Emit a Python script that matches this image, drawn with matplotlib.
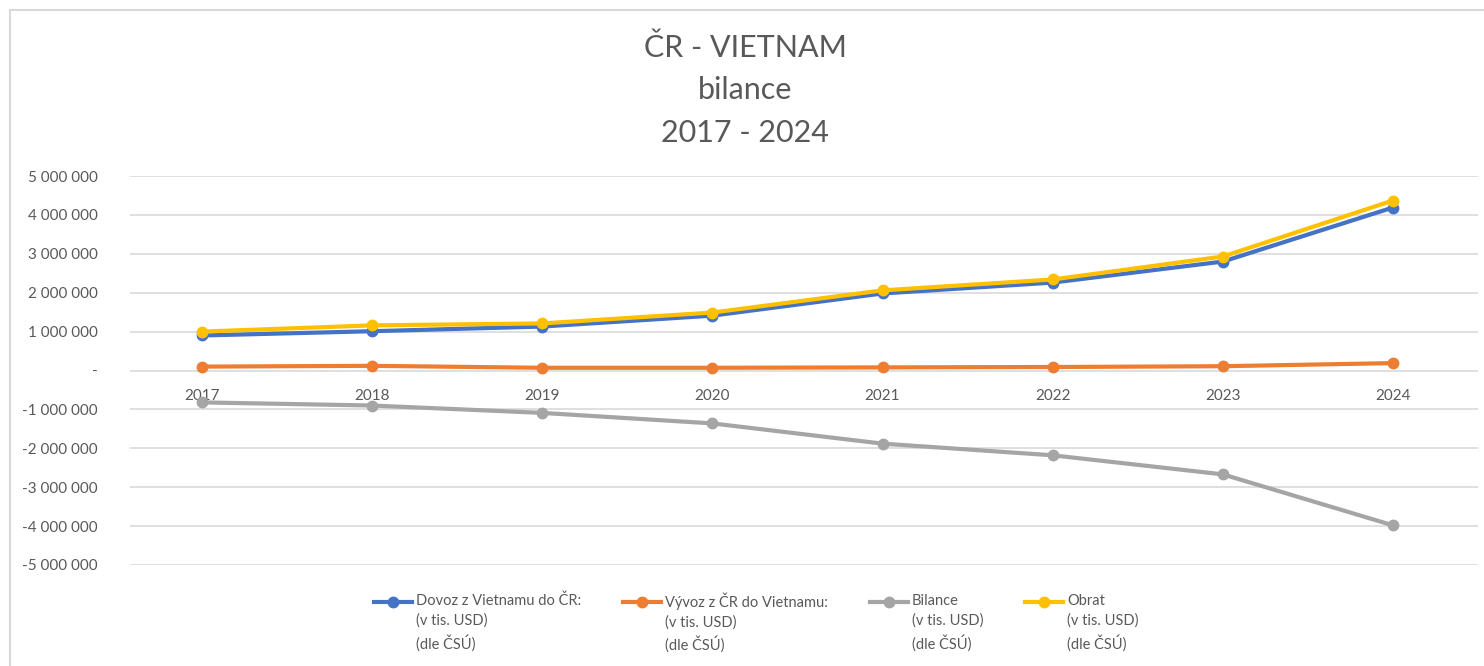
import numpy as np
from matplotlib import pyplot as plt
from matplotlib.lines import Line2D
from matplotlib.legend_handler import HandlerLine2D
from matplotlib.ticker import FuncFormatter

# ČR - Vietnam trade balance (v tis. USD, dle ČSÚ)
years = ["2017", "2018", "2019", "2020", "2021", "2022", "2023", "2024"]
dovoz = [900000, 1010000, 1130000, 1410000, 1980000, 2260000, 2800000, 4190000]
vyvoz = [100000, 120000, 70000, 70000, 80000, 90000, 110000, 190000]
bilance = [-820000, -900000, -1090000, -1360000, -1880000, -2180000, -2670000, -3980000]
obrat = [1000000, 1160000, 1210000, 1490000, 2060000, 2340000, 2930000, 4370000]

labels = ["Dovoz z Vietnamu do ČR:\n(v tis. USD)\n(dle ČSÚ)",
          "Vývoz z ČR do Vietnamu:\n(v tis. USD)\n(dle ČSÚ)",
          "Bilance\n(v tis. USD)\n(dle ČSÚ)",
          "Obrat\n(v tis. USD)\n(dle ČSÚ)"]
colors = ["#4472C4", "#ED7D31", "#A5A5A5", "#FFC000"]

plt.rcParams['font.family'] = ['Lato', 'DejaVu Sans']
txt = "#595959"


class HandlerFirstLine(HandlerLine2D):
    # put the legend line next to the first text line, not the middle one
    shift = 15.1

    def create_artists(self, legend, orig_handle, xdescent, ydescent,
                       width, height, fontsize, trans):
        arts = super().create_artists(legend, orig_handle, xdescent, ydescent,
                                      width, height, fontsize, trans)
        for a in arts:
            a.set_ydata(np.asarray(a.get_ydata()) + self.shift)
        return arts


W, H = 1484, 666
fig = plt.figure(figsize=(W / 100, H / 100), dpi=100)
ax = fig.add_axes([130 / W, 1 - 565 / H, 1348 / W, 389 / H])

x = np.arange(len(years))
lines = []
for ys, c, lab in zip([dovoz, vyvoz, bilance, obrat], colors, labels):
    l, = ax.plot(x, ys, color=c, lw=3, marker="o", ms=7.5, label=lab, clip_on=False)
    lines.append(l)

ax.set_xlim(-0.423, 7.5)
ax.set_ylim(-5000000, 5000000)
ax.set_yticks(np.arange(-5000000, 5000001, 1000000))


def fmt(v, pos):
    if v == 0:
        return "-"
    return "{:,.0f}".format(v).replace(",", " ")


ax.yaxis.set_major_formatter(FuncFormatter(fmt))
ax.set_xticks(x)
ax.set_xticklabels(years)
ax.grid(axis="y", color="#d9d9d9", lw=1.2)
ax.set_axisbelow(True)
for s in ["top", "right", "left"]:
    ax.spines[s].set_visible(False)
ax.spines["bottom"].set_position(("data", 0))
ax.spines["bottom"].set_visible(False)
ax.tick_params(axis="both", length=0, labelsize=11, labelcolor=txt)
ax.tick_params(axis="y", pad=23)
ax.tick_params(axis="x", pad=13)

fig.text(745 / W, 1 - 90 / H, "ČR - VIETNAM\nbilance\n2017 - 2024", ha="center", va="center",
         fontsize=22, color=txt, linespacing=1.63)

leg = ax.legend(handles=lines, loc="upper left", bbox_to_anchor=(361 / W, 1 - 579 / H),
                bbox_transform=fig.transFigure, ncol=4, frameon=False, fontsize=10.5,
                labelcolor=txt, handlelength=2.6, handletextpad=0.3, columnspacing=2.85,
                handler_map={Line2D: HandlerFirstLine()})
for t in leg.get_texts():
    t.set_linespacing(1.49)

# chart border (left and top)
fig.add_artist(Line2D([10 / W, 10 / W], [0, 1 - 10 / H], color="#d9d9d9", lw=1.5))
fig.add_artist(Line2D([10 / W, 1], [1 - 10 / H, 1 - 10 / H], color="#d9d9d9", lw=1.5))

fig.savefig("out.png", dpi=100)
